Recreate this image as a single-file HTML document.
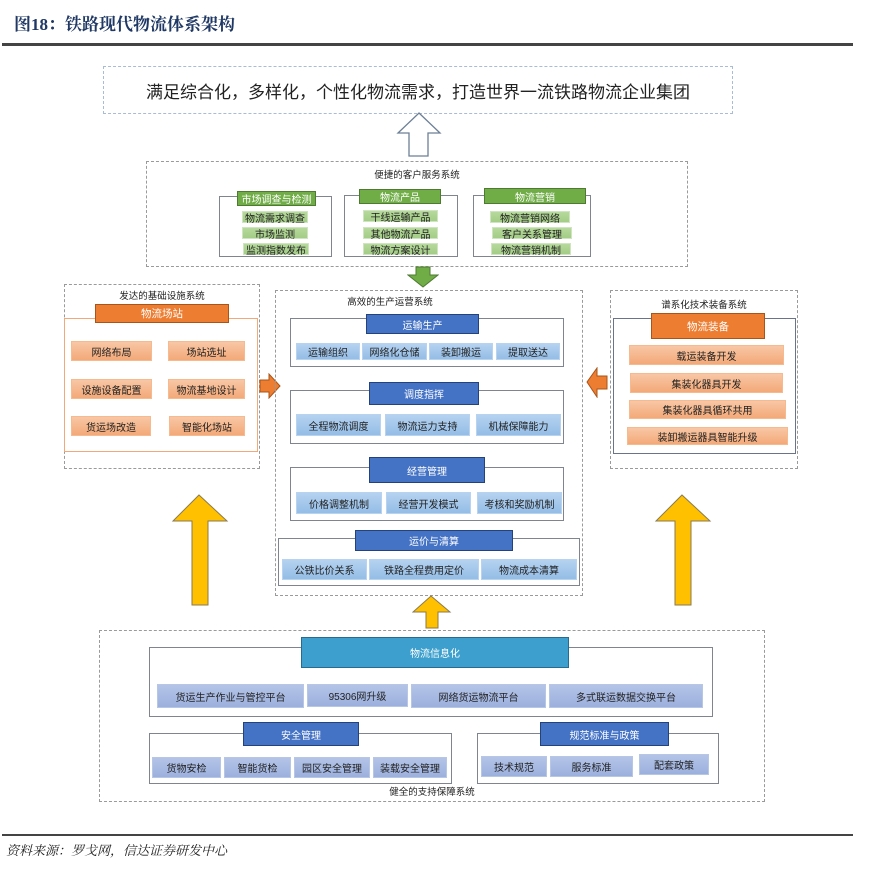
<!DOCTYPE html>
<html><head><meta charset="utf-8">
<style>
*{margin:0;padding:0;box-sizing:border-box}
body{width:890px;height:870px;background:#fff;position:relative;overflow:hidden;font-family:"Liberation Sans","Noto Sans CJK SC",sans-serif;color:#222}
div{position:absolute}
.t{display:flex;align-items:center;justify-content:center;white-space:nowrap;font-size:10px}
.dash{border:1px dashed #9a9a9a}
.ol{border:1.5px solid #7f8590;background:#fff}
.gh{background:#70ad47;border:1.5px solid #4e7a31;color:#fff}
.gi{background:linear-gradient(#b6d99c,#a3cd86);border:1px solid #cfe5bf;color:#222}
.oh{background:#ed7d31;border:1.5px solid #a95418;color:#fff}
.oi{background:linear-gradient(#f8c7a5,#f3a978);border:1px solid #f7b98e;color:#222}
.bh{background:#4472c4;border:1.5px solid #25427a;color:#fff}
.bi{background:linear-gradient(#b5d2f0,#94bde6);border:1px solid #b8d3ef;color:#222}
.th{background:#3d9fcd;border:1.5px solid #2a6a8c;color:#fff}
.pi{background:linear-gradient(#b4c4e8,#9cb0dd);border:1px solid #b8c6e6;color:#222}
.cap{font-size:9.5px;color:#222}
</style></head><body>
<div style="left:14px;top:10px;font:bold 17px 'Liberation Serif','Noto Serif CJK SC',serif;color:#1f3864">图18：铁路现代物流体系架构</div>
<div style="left:2px;top:43px;width:851px;height:3px;background:#444"></div>

<div class="t" style="left:103px;top:66px;width:630px;height:48px;border:1px dashed #a8bcd8;font-size:17px;color:#222">满足综合化，多样化，个性化物流需求，打造世界一流铁路物流企业集团</div>
<svg style="position:absolute;left:396px;top:112px" width="46" height="45"><polygon points="23,1 44,21 32,21 32,44 13,44 13,21 2,21" fill="#fff" stroke="#6d7f96" stroke-width="1.3"/></svg>

<!-- customer service -->
<div class="dash" style="left:146px;top:161px;width:542px;height:106px"></div>
<div class="t cap" style="left:146px;top:168px;width:542px;height:12px">便捷的客户服务系统</div>
<div class="ol" style="left:219px;top:196px;width:113px;height:61px"></div>
<div class="t gh" style="left:237px;top:191px;width:79px;height:15px">市场调查与检测</div>
<div class="t gi" style="left:242px;top:211px;width:66px;height:12px">物流需求调查</div>
<div class="t gi" style="left:242px;top:227px;width:66px;height:12px">市场监测</div>
<div class="t gi" style="left:243px;top:243px;width:66px;height:12px">监测指数发布</div>
<div class="ol" style="left:344px;top:195px;width:114px;height:62px"></div>
<div class="t gh" style="left:359px;top:189px;width:82px;height:15px">物流产品</div>
<div class="t gi" style="left:363px;top:210px;width:75px;height:12px">干线运输产品</div>
<div class="t gi" style="left:363px;top:227px;width:75px;height:12px">其他物流产品</div>
<div class="t gi" style="left:363px;top:243px;width:75px;height:12px">物流方案设计</div>
<div class="ol" style="left:473px;top:195px;width:118px;height:62px"></div>
<div class="t gh" style="left:484px;top:188px;width:102px;height:16px">物流营销</div>
<div class="t gi" style="left:490px;top:211px;width:80px;height:12px">物流营销网络</div>
<div class="t gi" style="left:492px;top:227px;width:80px;height:12px">客户关系管理</div>
<div class="t gi" style="left:491px;top:243px;width:80px;height:12px">物流营销机制</div>
<svg style="position:absolute;left:407px;top:266px" width="32" height="22"><polygon points="9,1 23,1 23,9 31,9 16,21 1,9 9,9" fill="#70ad47" stroke="#4e7a31"/></svg>

<!-- left infra -->
<div class="dash" style="left:64px;top:284px;width:196px;height:185px"></div>
<div class="t cap" style="left:64px;top:289px;width:196px;height:12px">发达的基础设施系统</div>
<div style="left:64px;top:318px;width:194px;height:134px;border:1px solid #f2a878"></div>
<div class="t oh" style="left:95px;top:304px;width:134px;height:19px;font-size:10.5px">物流场站</div>
<div class="t oi" style="left:71px;top:341px;width:81px;height:20px">网络布局</div>
<div class="t oi" style="left:168px;top:341px;width:77px;height:20px">场站选址</div>
<div class="t oi" style="left:71px;top:379px;width:81px;height:20px">设施设备配置</div>
<div class="t oi" style="left:168px;top:379px;width:77px;height:20px">物流基地设计</div>
<div class="t oi" style="left:71px;top:416px;width:80px;height:20px">货运场改造</div>
<div class="t oi" style="left:169px;top:416px;width:76px;height:20px">智能化场站</div>
<svg style="position:absolute;left:259px;top:373px" width="22" height="26"><polygon points="1,7 10,7 10,1 21,13 10,25 10,19 1,19" fill="#ed7d31" stroke="#a95418"/></svg>

<!-- center -->
<div class="dash" style="left:275px;top:290px;width:308px;height:306px"></div>
<div class="t cap" style="left:275px;top:295px;width:230px;height:12px">高效的生产运营系统</div>
<div class="ol" style="left:290px;top:318px;width:274px;height:49px"></div>
<div class="t bh" style="left:366px;top:314px;width:113px;height:20px">运输生产</div>
<div class="t bi" style="left:296px;top:343px;width:64px;height:17px">运输组织</div>
<div class="t bi" style="left:362px;top:343px;width:65px;height:17px">网络化仓储</div>
<div class="t bi" style="left:429px;top:343px;width:64px;height:17px">装卸搬运</div>
<div class="t bi" style="left:496px;top:343px;width:64px;height:17px">提取送达</div>
<div class="ol" style="left:290px;top:390px;width:274px;height:54px"></div>
<div class="t bh" style="left:369px;top:382px;width:110px;height:23px">调度指挥</div>
<div class="t bi" style="left:296px;top:414px;width:85px;height:22px">全程物流调度</div>
<div class="t bi" style="left:385px;top:414px;width:85px;height:22px">物流运力支持</div>
<div class="t bi" style="left:476px;top:414px;width:85px;height:22px">机械保障能力</div>
<div class="ol" style="left:290px;top:467px;width:274px;height:54px"></div>
<div class="t bh" style="left:369px;top:457px;width:116px;height:26px">经营管理</div>
<div class="t bi" style="left:296px;top:492px;width:86px;height:22px">价格调整机制</div>
<div class="t bi" style="left:386px;top:492px;width:85px;height:22px">经营开发模式</div>
<div class="t bi" style="left:477px;top:492px;width:85px;height:22px">考核和奖励机制</div>
<div class="ol" style="left:278px;top:538px;width:302px;height:48px"></div>
<div class="t bh" style="left:355px;top:530px;width:158px;height:21px">运价与清算</div>
<div class="t bi" style="left:282px;top:559px;width:85px;height:21px">公铁比价关系</div>
<div class="t bi" style="left:369px;top:559px;width:110px;height:21px">铁路全程费用定价</div>
<div class="t bi" style="left:481px;top:559px;width:96px;height:21px">物流成本清算</div>

<!-- right -->
<div class="dash" style="left:610px;top:290px;width:188px;height:179px"></div>
<div class="t cap" style="left:610px;top:298px;width:188px;height:12px">谱系化技术装备系统</div>
<div style="left:613px;top:318px;width:183px;height:136px;border:1.5px solid #6a7388"></div>
<div class="t oh" style="left:651px;top:313px;width:114px;height:26px;font-size:10.5px">物流装备</div>
<div class="t oi" style="left:629px;top:345px;width:155px;height:20px">载运装备开发</div>
<div class="t oi" style="left:630px;top:373px;width:153px;height:20px">集装化器具开发</div>
<div class="t oi" style="left:629px;top:400px;width:157px;height:19px">集装化器具循环共用</div>
<div class="t oi" style="left:627px;top:427px;width:161px;height:18px">装卸搬运器具智能升级</div>
<svg style="position:absolute;left:586px;top:367px" width="22" height="31"><polygon points="1,15 11,1 11,9 21,9 21,22 11,22 11,30" fill="#ed7d31" stroke="#a95418"/></svg>

<!-- yellow arrows -->
<svg style="position:absolute;left:171px;top:494px" width="58" height="113"><polygon points="28,1 56,27 37,27 37,111 21,111 21,27 2,27" fill="#ffc000" stroke="#8a7a50"/></svg>
<svg style="position:absolute;left:654px;top:494px" width="58" height="113"><polygon points="28,1 56,27 37,27 37,111 21,111 21,27 2,27" fill="#ffc000" stroke="#8a7a50"/></svg>
<svg style="position:absolute;left:412px;top:595px" width="40" height="35"><polygon points="19,1 38,17 26,17 26,33 14,33 14,17 1,17" fill="#ffc000" stroke="#8a7a50"/></svg>

<!-- bottom -->
<div class="dash" style="left:99px;top:630px;width:666px;height:172px"></div>
<div class="ol" style="left:149px;top:647px;width:564px;height:70px"></div>
<div class="t th" style="left:301px;top:637px;width:268px;height:31px">物流信息化</div>
<div class="t pi" style="left:157px;top:684px;width:147px;height:24px">货运生产作业与管控平台</div>
<div class="t pi" style="left:307px;top:684px;width:101px;height:23px">95306网升级</div>
<div class="t pi" style="left:411px;top:684px;width:135px;height:24px">网络货运物流平台</div>
<div class="t pi" style="left:549px;top:684px;width:154px;height:24px">多式联运数据交换平台</div>
<div class="ol" style="left:149px;top:733px;width:303px;height:51px"></div>
<div class="t bh" style="left:243px;top:722px;width:116px;height:24px">安全管理</div>
<div class="t pi" style="left:152px;top:757px;width:69px;height:21px">货物安检</div>
<div class="t pi" style="left:224px;top:757px;width:67px;height:21px">智能货检</div>
<div class="t pi" style="left:294px;top:757px;width:76px;height:21px">园区安全管理</div>
<div class="t pi" style="left:373px;top:757px;width:74px;height:21px">装载安全管理</div>
<div class="ol" style="left:477px;top:733px;width:242px;height:51px"></div>
<div class="t bh" style="left:540px;top:722px;width:129px;height:24px">规范标准与政策</div>
<div class="t pi" style="left:481px;top:756px;width:66px;height:21px">技术规范</div>
<div class="t pi" style="left:550px;top:756px;width:83px;height:21px">服务标准</div>
<div class="t pi" style="left:639px;top:754px;width:70px;height:21px">配套政策</div>
<div class="t cap" style="left:99px;top:785px;width:666px;height:12px">健全的支持保障系统</div>

<div style="left:2px;top:834px;width:851px;height:2px;background:#444"></div>
<div style="left:6px;top:840px;font:italic 13px 'Liberation Serif','Noto Serif CJK SC',serif;color:#222">资料来源：罗戈网，信达证券研发中心</div>
</body></html>
